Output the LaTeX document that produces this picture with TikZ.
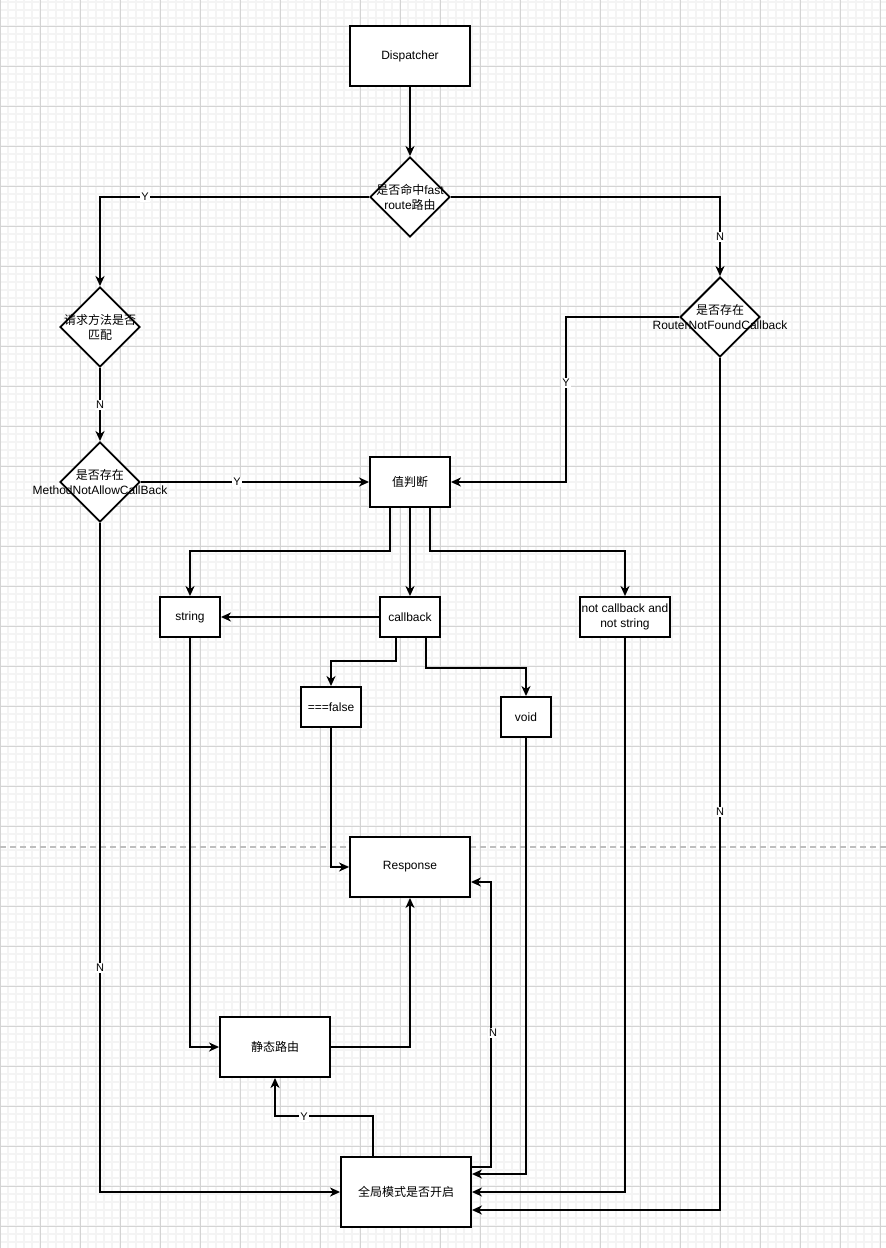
\documentclass[tikz,border=0pt]{standalone}
\usepackage{fontspec}
\setmainfont{Liberation Sans}
\newfontfamily\cjk{Noto Sans CJK SC}
\usetikzlibrary{shapes.geometric,arrows.meta}
\definecolor{minorc}{RGB}{244,244,244}
\definecolor{majorc}{RGB}{212,212,212}
\definecolor{dashc}{RGB}{190,190,190}
\begin{document}
\begin{tikzpicture}[x=1pt,y=-1pt,
 box/.style={draw, line width=1.9pt, fill=white, inner sep=0pt, font=\fontsize{12}{15}\selectfont, align=center},
 dia/.style={draw, diamond, line width=1.9pt, fill=white, inner sep=0pt, minimum width=80pt, minimum height=80pt},
 txt/.style={font=\fontsize{12}{15}\selectfont, align=center, inner sep=0pt},
 lbl/.style={fill=white, inner sep=1pt, font=\fontsize{11}{13}\selectfont},
 arr/.style={line width=1.9pt, -{Stealth[length=10pt,width=9pt,inset=3pt]}},
 ln/.style={line width=1.9pt},
 minorln/.style={minorc, line width=1.4pt},
 majorln/.style={majorc, line width=0.9pt}
]
% background and grid
\fill[white] (0,0) rectangle (886,1248);
\useasboundingbox (0,0) rectangle (886,1248);
\foreach \x in {0,8,...,880} \draw[minorln] (\x,0) -- (\x,1248);
\foreach \y in {2,10,...,1242} \draw[minorln] (0,\y) -- (886,\y);
\foreach \x in {0,40,...,880} \draw[majorln] (\x,0) -- (\x,1248);
\foreach \y in {26,66,...,1226} \draw[majorln] (0,\y) -- (886,\y);
\draw[dashc, line width=1.3pt, dash pattern=on 6pt off 4pt] (0,847) -- (886,847);

% nodes
\node[box, minimum width=120pt, minimum height=60pt] (disp) at (410,56) {Dispatcher};
\node[dia] (d1) at (410,197) {};
\node[txt] (d1t) at (410,197) {{\cjk 是否命中}fast\\route{\cjk 路由}};
\node[dia] (d2) at (100,327) {};
\node[txt] (d2t) at (100,327) {{\cjk 请求方法是否}\\{\cjk 匹配}};
\node[dia] (d3) at (720,317) {};
\node[txt] (d3t) at (720,317) {{\cjk 是否存在}\\RouterNotFoundCallback};
\node[dia] (d4) at (100,482) {};
\node[txt] (d4t) at (100,482) {{\cjk 是否存在}\\MethodNotAllowCallBack};
\node[box, minimum width=80pt, minimum height=50pt] (val) at (410,482) {\cjk 值判断};
\node[box, minimum width=60pt, minimum height=40pt] (str) at (190,617) {string};
\node[box, minimum width=60pt, minimum height=40pt] (cb) at (410,617) {callback};
\node[box, minimum width=90pt, minimum height=40pt] (ncb) at (625,617) {not callback and\\not string};
\node[box, minimum width=60pt, minimum height=40pt] (fls) at (331,707) {===false};
\node[box, minimum width=50pt, minimum height=40pt] (void) at (526,717) {void};
\node[box, minimum width=120pt, minimum height=60pt] (resp) at (410,867) {Response};
\node[box, minimum width=110pt, minimum height=60pt] (stat) at (275,1047) {\cjk 静态路由};
\node[box, minimum width=130pt, minimum height=70pt] (glob) at (406,1192) {\cjk 全局模式是否开启};
\coordinate (b7) at (566,317);

% connectors
\draw[arr] (disp.south) -- (d1.north);
\draw[arr] (d1.west) -| (d2.north);
\draw[arr] (d1.east) -| (d3.north);
\draw[arr] (d2.south) -- (d4.north);
\draw[arr] (d4.east) -- (val.west);
\draw[arr] (d4.south) |- (glob.west);
\draw[arr] (d3.west) -- (b7) |- (val.east);
\draw[arr] (d3.south) |- ([yshift=-18pt]glob.east);
\draw[arr] ([xshift=-20pt]val.south) -- ++(0,43) -| (str.north);
\draw[arr] (val.south) -- (cb.north);
\draw[arr] ([xshift=20pt]val.south) -- ++(0,43) -| (ncb.north);
\draw[arr] (cb.west) -- (str.east);
\draw[arr] ([xshift=-14pt]cb.south) -- ++(0,23) -| (fls.north);
\draw[arr] ([xshift=16pt]cb.south) -- ++(0,30) -| (void.north);
\draw[arr] (fls.south) |- (resp.west);
\draw[arr] (str.south) |- (stat.west);
\draw[arr] (stat.east) -| (resp.south);
\draw[arr] ([xshift=-33pt]glob.north) -- ++(0,-40) -| (stat.south);
\draw[arr] ([yshift=25pt]glob.east) -- ++(19,0) |- ([yshift=-15pt]resp.east);
\draw[arr] (void.south) |- ([yshift=18pt]glob.east);
\draw[arr] (ncb.south) |- (glob.east);

% labels
\node[lbl] (lY1) at (145,197) {Y};
\node[lbl] (lN1) at (720,237) {N};
\node[lbl] (lN2) at (100,405) {N};
\node[lbl] (lY2) at (237,482) {Y};
\node[lbl] (lN3) at (100,968) {N};
\node[lbl] (lY3) at (566,383) {Y};
\node[lbl] (lN4) at (720,812) {N};
\node[lbl] (lY4) at (304,1117) {Y};
\node[lbl] (lN5) at (493,1033) {N};
\end{tikzpicture}
\end{document}
